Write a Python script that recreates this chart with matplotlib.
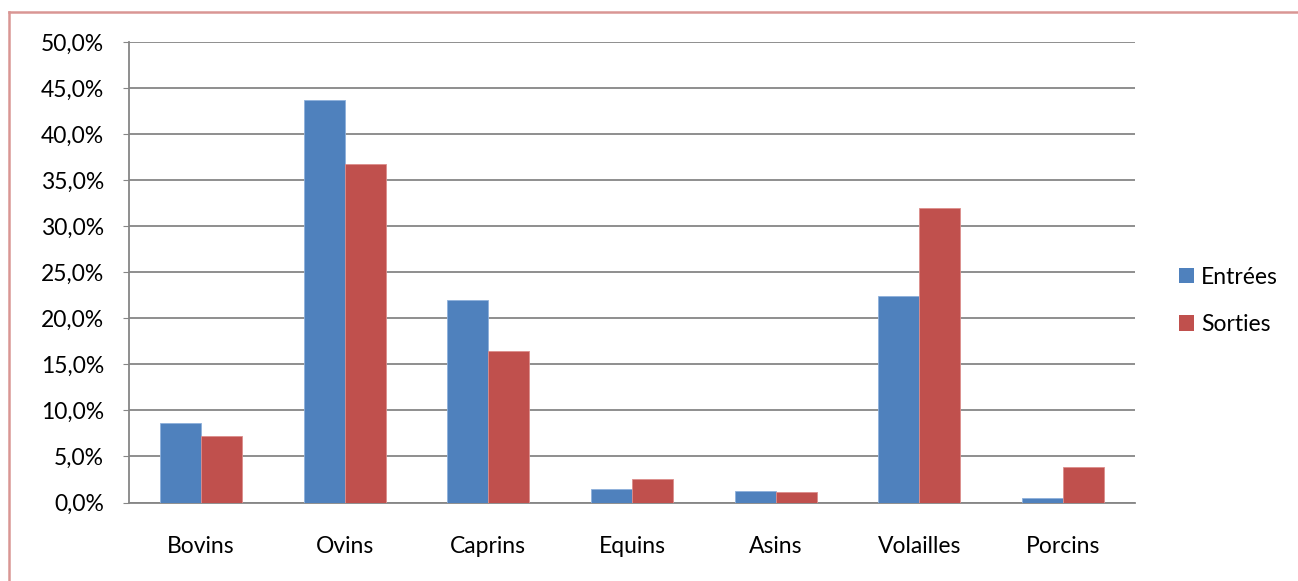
import numpy as np
import matplotlib.pyplot as plt
import matplotlib as mpl
from matplotlib.patches import Patch
from matplotlib.ticker import FuncFormatter

categories = ["Bovins", "Ovins", "Caprins", "Equins", "Asins", "Volailles", "Porcins"]
entrees = [8.6, 43.7, 22.0, 1.5, 1.3, 22.4, 0.5]
sorties = [7.2, 36.8, 16.4, 2.6, 1.1, 32.0, 3.9]

BLUE = "#4f81bd"
RED = "#c0504d"
GRID = "#868686"

mpl.rcParams['font.family'] = ['Lato', 'DejaVu Sans']
FS = 16.5

fig = plt.figure(figsize=(12.98, 5.81), dpi=100)
ax = fig.add_axes([129 / 1298, 78.5 / 581, (1135 - 129) / 1298, (502.5 - 42) / 581])

x = np.arange(len(categories))
w = 1 / 3.5
ax.bar(x - w / 2, entrees, width=w, color=BLUE, edgecolor="#8eb0db", linewidth=0.6, zorder=3)
ax.bar(x + w / 2, sorties, width=w, color=RED, edgecolor="#dc8d8b", linewidth=0.6, zorder=3)

ax.set_xlim(-0.5, len(categories) - 0.5)
ax.set_ylim(0, 50)
ax.set_yticks(np.arange(0, 50.1, 5))
ax.yaxis.set_major_formatter(FuncFormatter(lambda v, p: f"{v:.1f}%".replace('.', ',')))
ax.set_xticks(x)
ax.set_xticklabels(categories)
ax.yaxis.grid(True, color=GRID, linewidth=1.3, zorder=0)
ax.set_axisbelow(True)

for s in ['top', 'right']:
    ax.spines[s].set_visible(False)
for s in ['left', 'bottom']:
    ax.spines[s].set_color(GRID)
    ax.spines[s].set_linewidth(1.3)
ax.tick_params(axis='y', length=4, color=GRID, pad=14, labelsize=FS)
ax.tick_params(axis='x', length=0, pad=24, labelsize=FS)

handles = [Patch(facecolor=BLUE, label="Entrées"), Patch(facecolor=RED, label="Sorties")]
fig.legend(handles=handles, loc='center left', bbox_to_anchor=(1168 / 1298, 1 - 301 / 581),
           frameon=False, borderpad=0, handlelength=0.65, handleheight=0.65, handletextpad=0.3,
           labelspacing=1.15, fontsize=FS)

# pink outer border (top and left edges)
fig.add_artist(plt.Line2D([9 / 1298, 1], [1 - 12 / 581, 1 - 12 / 581], color="#d99694",
                          linewidth=1.8, transform=fig.transFigure))
fig.add_artist(plt.Line2D([9 / 1298, 9 / 1298], [0, 1 - 12 / 581], color="#d99694",
                          linewidth=1.8, transform=fig.transFigure))

fig.savefig("out.png", dpi=100)
